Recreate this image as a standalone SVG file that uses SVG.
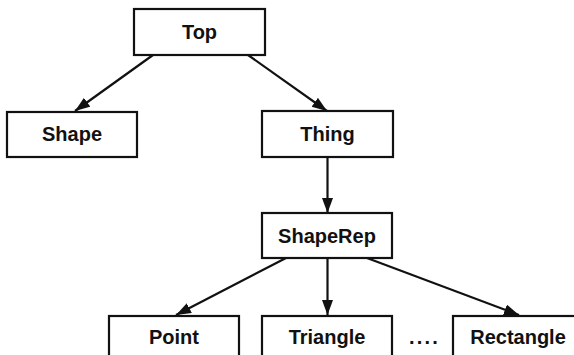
<svg xmlns="http://www.w3.org/2000/svg" width="574" height="355" viewBox="0 0 574 355">
  <style>
    .box rect { fill: #ffffff; stroke: #111111; stroke-width: 2.2; }
    .box text { font-family: "Liberation Sans", Arial, sans-serif; font-weight: bold; font-size: 20px; fill: #111111; text-anchor: middle; }
    .edge { stroke: #111111; stroke-width: 2.2; fill: none; marker-end: url(#arrow); }
    .dots { font-family: "Liberation Sans", Arial, sans-serif; font-weight: bold; font-size: 20px; fill: #111111; letter-spacing: 2.2px; }
  </style>
  <defs>
    <marker id="arrow" markerUnits="userSpaceOnUse" markerWidth="16" markerHeight="12" refX="15" refY="5.5" orient="auto">
      <path d="M0,0 L15,5.5 L0,11 Z" fill="#111111"/>
    </marker>
  </defs>
  <rect width="574" height="355" fill="#ffffff"/>

  <!-- connectors -->
  <g id="connectors">
    <line class="edge" x1="153" y1="55" x2="75" y2="111"/>
    <line class="edge" x1="248" y1="55" x2="327" y2="111"/>
    <line class="edge" x1="327.5" y1="157" x2="327.5" y2="213"/>
    <line class="edge" x1="286" y1="258" x2="176" y2="315"/>
    <line class="edge" x1="327.5" y1="258" x2="327.5" y2="315"/>
    <line class="edge" x1="367" y1="258" x2="519" y2="315"/>
  </g>

  <!-- nodes -->
  <g id="top" class="box">
    <rect x="134" y="9" width="131" height="46"/>
    <text x="199.5" y="39">Top</text>
  </g>
  <g id="shape" class="box">
    <rect x="7" y="112" width="130" height="45"/>
    <text x="72" y="141">Shape</text>
  </g>
  <g id="thing" class="box">
    <rect x="262" y="111" width="131" height="46"/>
    <text x="327.5" y="141">Thing</text>
  </g>
  <g id="shaperep" class="box">
    <rect x="262" y="213" width="130" height="45"/>
    <text x="327" y="243">ShapeRep</text>
  </g>
  <g id="point" class="box">
    <rect x="109" y="316" width="130" height="46"/>
    <text x="174" y="344">Point</text>
  </g>
  <g id="triangle" class="box">
    <rect x="262" y="316" width="130" height="46"/>
    <text x="327" y="344">Triangle</text>
  </g>
  <g id="ellipsis">
    <text class="dots" x="409" y="344">....</text>
  </g>
  <g id="rectangle" class="box">
    <rect x="453" y="316" width="130" height="46"/>
    <text x="518" y="344">Rectangle</text>
  </g>
</svg>
